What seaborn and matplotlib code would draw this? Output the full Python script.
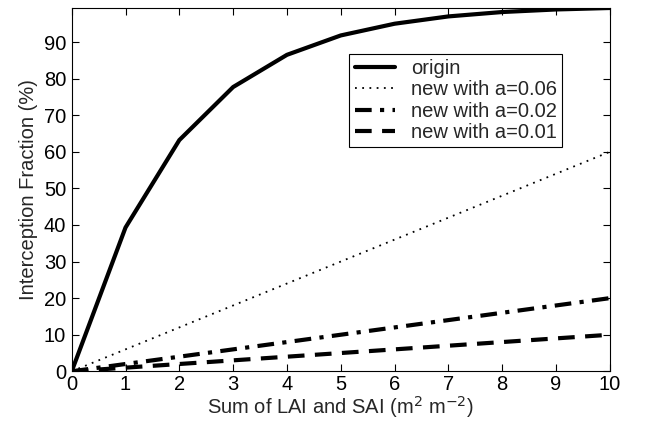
import matplotlib
matplotlib.use("Agg")
import matplotlib.pyplot as plt
import seaborn as sns
import pandas as pd

x = [0, 1, 2, 3, 4, 5, 6, 7, 8, 9, 10]
origin = [0, 39.3, 63.2, 77.7, 86.5, 91.8, 95.0, 97.0, 98.2, 98.9, 99.3]
a006 = [0, 6, 12, 18, 24, 30, 36, 42, 48, 54, 60]
a002 = [0, 2, 4, 6, 8, 10, 12, 14, 16, 18, 20]
a001 = [0, 1, 2, 3, 4, 5, 6, 7, 8, 9, 10]
labels = ["origin", "new with a=0.06", "new with a=0.02", "new with a=0.01"]
xticks = list(range(0, 11))
yticks = list(range(0, 100, 10))

sns.set_style("white")
plt.rcParams['font.family'] = ['Liberation Sans', 'DejaVu Sans']

FS = 14.5
fig = plt.figure(figsize=(6.46, 4.21), dpi=100)
ax = fig.add_axes([0.111, 0.118, 0.833, 0.863])

series = [origin, a006, a002, a001]
styles = [
    dict(linestyle='-', linewidth=3.0),
    dict(linestyle=(0, (1, 3)), linewidth=1.3),
    dict(linestyle=(0, (4, 2, 1, 2)), linewidth=3.0),
    dict(linestyle=(0, (4, 2.5)), linewidth=3.0),
]
for lab, ys, st in zip(labels, series, styles):
    df = pd.DataFrame({"x": x, "y": ys})
    sns.lineplot(data=df, x="x", y="y", ax=ax, color="black", label=lab, **st)

ax.set_xlim(0, 10)
ax.set_ylim(0, 99.3)
ax.set_xticks(xticks)
ax.set_yticks(yticks)
ax.tick_params(direction='in', length=5, width=0.8, labelsize=FS, colors='black',
               top=True, right=True, bottom=True, left=True, pad=4)
ax.tick_params(axis='x', pad=3)
for s in ax.spines.values():
    s.set_color('black')
    s.set_linewidth(0.8)
ax.set_xlabel("Sum of LAI and SAI (m$^2$ m$^{-2}$)", fontsize=FS, labelpad=0)
ax.set_ylabel("Interception Fraction (%)", fontsize=FS, labelpad=4)

leg = ax.legend(loc='upper right', bbox_to_anchor=(0.911, 0.874), fontsize=FS,
                frameon=True, fancybox=False, edgecolor='black', framealpha=1,
                borderaxespad=0,
                handlelength=2.0, borderpad=0.25, labelspacing=0.12, handletextpad=0.8)
leg.get_frame().set_linewidth(0.8)

fig.savefig("out.png", dpi=100)
